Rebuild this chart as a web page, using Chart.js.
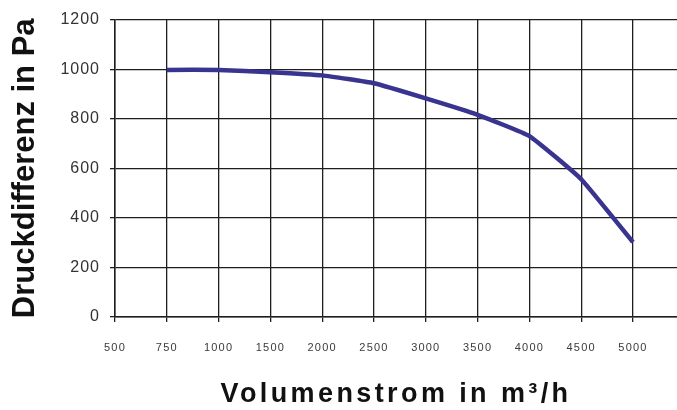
<!DOCTYPE html>
<html>
<head>
<meta charset="utf-8">
<script src="https://cdn.jsdelivr.net/npm/chart.js@4/dist/chart.umd.min.js"></script>
<style>
  html, body { margin: 0; padding: 0; background: #fff; }
  #wrap { width: 677px; height: 410px; position: relative; }
</style>
</head>
<body>
<div id="wrap"><canvas id="chart"></canvas></div>
<script>
// Volumenstrom categories (equally spaced on the axis)
const flowLabels = ['500', '750', '1000', '1500', '2000', '2500', '3000', '3500', '4000', '4500', '5000'];
// Druckdifferenz, starts at 750
const curveFlow = ['750', '1000', '1500', '2000', '2500', '3000', '3500', '4000', '4500', '5000'];
const curvePressure = [997, 997, 988, 975, 943, 882, 816, 730, 556, 302];

const points = curveFlow.map((f, i) => ({ x: flowLabels.indexOf(f), y: curvePressure[i] }));

const gridColor = '#1e1e1e';

// letter spacing per scale: [ticks, title]
const spacing = { x: ['1.2px', '3.4px'], y: ['1px', '0px'] };

// linear scale that draws its texts with some letter spacing
class SpacedScale extends Chart.LinearScale {
	drawTitle() {
		this.ctx.save();
		this.ctx.letterSpacing = spacing[this.id][1];
		super.drawTitle();
		this.ctx.restore();
	}
	drawLabels(area) {
		this.ctx.save();
		this.ctx.letterSpacing = spacing[this.id][0];
		super.drawLabels(area);
		this.ctx.restore();
	}
}
SpacedScale.id = 'spaced';
SpacedScale.defaults = Chart.LinearScale.defaults;
Chart.register(SpacedScale);

new Chart(document.getElementById('chart'), {
	type: 'line',
	data: {
		datasets: [{
			data: points,
			borderColor: '#38348f',
			borderWidth: 4.5,
			pointRadius: 0,
			tension: 0.12,
			fill: false
		}]
	},
	options: {
		responsive: true,
		maintainAspectRatio: false,
		animation: false,
		layout: { padding: { top: 17, right: 0, left: 0, bottom: 0 } },
		plugins: { legend: { display: false }, tooltip: { enabled: false } },
		scales: {
			x: {
				type: 'spaced',
				position: 'bottom',
				min: 0,
				max: 10.85,
				afterFit: (s) => { s.height = 93; },
				grid: { color: gridColor, lineWidth: 1.3, tickLength: 5 },
				border: { color: gridColor, width: 1.5 },
				ticks: {
					stepSize: 1,
					includeBounds: false,
					autoSkip: false,
					maxRotation: 0,
					padding: 19,
					color: '#3a3a3a',
					font: { family: 'Liberation Sans', size: 11 },
					callback: (v) => flowLabels[v] ?? ''
				},
				title: {
					display: true,
					text: 'Volumenstrom in m³/h',
					color: '#111',
					font: { family: 'Liberation Sans', size: 27, weight: 'bold', lineHeight: 1 },
					padding: { top: 0, bottom: 2 }
				}
			},
			y: {
				type: 'spaced',
				position: 'left',
				min: 0,
				max: 1200,
				afterFit: (s) => { s.width = 115; },
				grid: { color: gridColor, lineWidth: 1.3, tickLength: 5 },
				border: { color: gridColor, width: 1.5 },
				ticks: {
					stepSize: 200,
					padding: 10,
					color: '#333',
					font: { family: 'Liberation Sans', size: 16 },
					callback: (v) => String(v)
				},
				title: {
					display: true,
					text: 'Druckdifferenz in Pa',
					color: '#111',
					font: { family: 'Liberation Sans', size: 31, weight: 'bold', lineHeight: 1 },
					padding: { top: 10, bottom: 0 }
				}
			}
		}
	}
});
</script>
</body>
</html>
